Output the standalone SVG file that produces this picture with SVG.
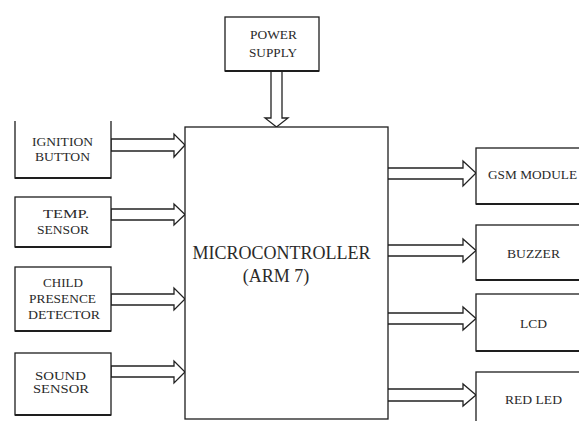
<svg xmlns="http://www.w3.org/2000/svg" width="579" height="421" viewBox="0 0 579 421">
  <style>
    .box { fill: #ffffff; stroke: #1e1e1e; stroke-width: 1.3; }
    .base { stroke: #1e1e1e; stroke-width: 2.2; fill: none; }
    .arrow { fill: #ffffff; stroke: #222222; stroke-width: 1.3; stroke-linejoin: miter; }
    .lbl { font-family: "Liberation Serif", "Times New Roman", serif; font-size: 12.5px; fill: #2a2a2a; text-anchor: middle; }
    .big { font-family: "Liberation Serif", "Times New Roman", serif; font-size: 18px; fill: #2a2a2a; text-anchor: middle; }
  </style>
  <rect width="579" height="421" fill="#ffffff"/>

  <!-- connectors: hollow block arrows -->
  <g id="connectors">
    <!-- power supply down into the controller -->
    <polygon class="arrow" points="271,71 282,71 282,118 288,118 276.5,127 265,118 271,118"/>
    <!-- inputs -->
    <polygon class="arrow" points="111,139 174,139 174,134 185,145 174,157 174,151 111,151"/>
    <polygon class="arrow" points="111,209 174,209 174,204 185,214.5 174,225 174,220 111,220"/>
    <polygon class="arrow" points="111,294 174,294 174,288 185,299 174,310 174,305 111,305"/>
    <polygon class="arrow" points="111,366 174,366 174,361 185,372 174,383 174,377 111,377"/>
    <!-- outputs -->
    <polygon class="arrow" points="387,168 463,168 463,161 476,173 463,186 463,179 387,179"/>
    <polygon class="arrow" points="387,245 463,245 463,239 476,250.5 463,262 463,256 387,256"/>
    <polygon class="arrow" points="387,313 463,313 463,307 476,318.5 463,330 463,324 387,324"/>
    <polygon class="arrow" points="387,389 463,389 463,384 476,395 463,406 463,401 387,401"/>
  </g>

  <g id="microcontroller">
    <rect class="box" x="185" y="127" width="203" height="292"/>
    <text class="big" x="281.5" y="259">MICROCONTROLLER</text>
    <text class="big" x="276" y="282">(ARM 7)</text>
  </g>

  <g id="power-supply">
    <rect class="box" x="225" y="17" width="94" height="54"/>
    <line class="base" x1="225" y1="71" x2="319" y2="71"/>
    <text class="lbl" x="273.5" y="39" textLength="47" lengthAdjust="spacingAndGlyphs">POWER</text>
    <text class="lbl" x="273" y="57" textLength="48" lengthAdjust="spacingAndGlyphs">SUPPLY</text>
  </g>

  <g id="ignition-button">
    <path class="box" d="M15,121 V178 H111 V121"/>
    <line class="base" x1="15" y1="178" x2="111" y2="178"/>
    <text class="lbl" x="62.5" y="146" textLength="61" lengthAdjust="spacingAndGlyphs">IGNITION</text>
    <text class="lbl" x="62.5" y="161" textLength="55" lengthAdjust="spacingAndGlyphs">BUTTON</text>
  </g>

  <g id="temp-sensor">
    <rect class="box" x="15" y="197" width="96" height="50"/>
    <line class="base" x1="15" y1="247" x2="111" y2="247"/>
    <text class="lbl" x="66" y="218" textLength="46" lengthAdjust="spacingAndGlyphs">TEMP.</text>
    <text class="lbl" x="63" y="234" textLength="52" lengthAdjust="spacingAndGlyphs">SENSOR</text>
  </g>

  <g id="child-presence-detector">
    <rect class="box" x="15" y="267" width="96" height="64"/>
    <line class="base" x1="15" y1="331" x2="111" y2="331"/>
    <text class="lbl" x="63" y="286.5" textLength="40" lengthAdjust="spacingAndGlyphs">CHILD</text>
    <text class="lbl" x="62.5" y="302.5" textLength="67" lengthAdjust="spacingAndGlyphs">PRESENCE</text>
    <text class="lbl" x="64" y="318.5" textLength="72" lengthAdjust="spacingAndGlyphs">DETECTOR</text>
  </g>

  <g id="sound-sensor">
    <rect class="box" x="15" y="353" width="96" height="62"/>
    <line class="base" x1="15" y1="415" x2="111" y2="415"/>
    <text class="lbl" x="60.5" y="380" textLength="51" lengthAdjust="spacingAndGlyphs">SOUND</text>
    <text class="lbl" x="61" y="393" textLength="56" lengthAdjust="spacingAndGlyphs">SENSOR</text>
  </g>

  <g id="gsm-module">
    <rect class="box" x="476" y="148" width="110" height="56"/>
    <line class="base" x1="476" y1="204" x2="586" y2="204"/>
    <text class="lbl" x="488" y="179" style="text-anchor:start" textLength="89" lengthAdjust="spacingAndGlyphs">GSM MODULE</text>
  </g>

  <g id="buzzer">
    <rect class="box" x="476" y="225" width="110" height="55"/>
    <line class="base" x1="476" y1="280" x2="586" y2="280"/>
    <text class="lbl" x="533.5" y="258" textLength="53" lengthAdjust="spacingAndGlyphs">BUZZER</text>
  </g>

  <g id="lcd">
    <rect class="box" x="476" y="294" width="110" height="57"/>
    <line class="base" x1="476" y1="351" x2="586" y2="351"/>
    <text class="lbl" x="533.5" y="328" textLength="27" lengthAdjust="spacingAndGlyphs">LCD</text>
  </g>

  <g id="red-led">
    <rect class="box" x="476" y="372" width="110" height="60"/>
    <text class="lbl" x="533.5" y="404" textLength="57" lengthAdjust="spacingAndGlyphs">RED LED</text>
  </g>
</svg>
